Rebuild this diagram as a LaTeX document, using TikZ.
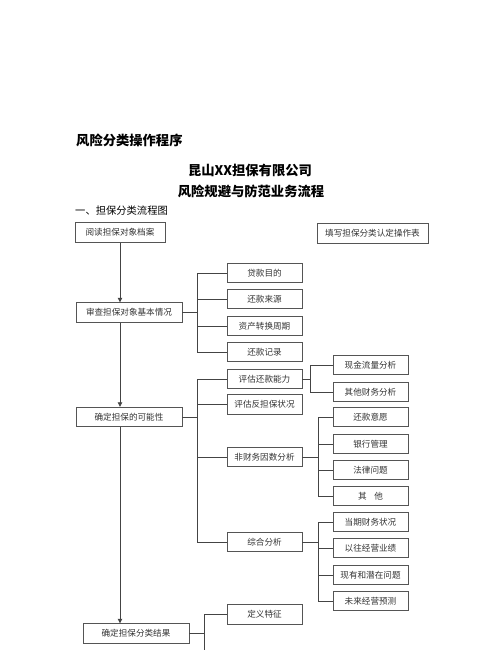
\documentclass[tikz,border=0pt]{standalone}
\usepackage{fontspec}
\newfontfamily\cjk{Noto Sans CJK SC}
\usetikzlibrary{arrows.meta}
\definecolor{ln}{HTML}{444444}
\definecolor{bx}{HTML}{555555}
\definecolor{tx}{HTML}{333333}
\tikzset{
  box/.style={draw=bx, line width=0.9pt, inner sep=0pt, minimum height=19.5pt, text=tx, font=\cjk\fontsize{8.6pt}{9pt}\selectfont},
  wA/.style={minimum width=90pt},
  wB/.style={minimum width=111pt},
  wM/.style={minimum width=106pt},
  wS/.style={minimum width=75pt},
  conn/.style={draw=ln, line width=0.8pt},
  arr/.style={conn, -{Triangle[length=4.5pt,width=4.5pt]}},
  ttl/.style={inner sep=0pt, text=black, font=\cjk\bfseries\fontsize{13.3pt}{14pt}\selectfont},
}
\begin{document}
\begin{tikzpicture}[x=1pt,y=-1pt]
\useasboundingbox (0,0) rectangle (500,657);
% titles
\node[ttl, anchor=west] (t1) at (76,140) {风险分类操作程序};
\node[ttl] (t2) at (250,170) {昆山XX担保有限公司};
\node[ttl] (t3) at (251,191) {风险规避与防范业务流程};
\node[inner sep=0pt, anchor=west, font=\cjk\fontsize{10.3pt}{11pt}\selectfont] (t4) at (75,211) {一、担保分类流程图};
% main column
\node[box,wA] (A) at (120,232.5) {阅读担保对象档案};
\node[box,wB] (B) at (372.5,233.5) {填写担保分类认定操作表};
\node[box,wM] (C) at (129,312.5) {审查担保对象基本情况};
\node[box,wM] (D) at (129,417) {确定担保的可能性};
\node[box,wM] (E) at (136,633.5) {确定担保分类结果};
% level 2
\node[box,wS] (c1) at (264.5,273) {贷款目的};
\node[box,wS] (c2) at (264.5,299) {还款来源};
\node[box,wS] (c3) at (264.5,326) {资产转换周期};
\node[box,wS] (c4) at (264.5,352) {还款记录};
\node[box,wS] (d1) at (264.5,379) {评估还款能力};
\node[box,wS] (d2) at (264.5,404.5) {评估反担保状况};
\node[box,wS] (d3) at (264.5,457) {非财务因数分析};
\node[box,wS] (d4) at (264.5,542) {综合分析};
\node[box,wS] (e1) at (264.5,614.5) {定义特征};
% level 3
\node[box,wS] (p1) at (370.5,365) {现金流量分析};
\node[box,wS] (p2) at (370.5,392) {其他财务分析};
\node[box,wS] (q1) at (370.5,417) {还款意愿};
\node[box,wS] (q2) at (370.5,444) {银行管理};
\node[box,wS] (q3) at (370.5,470) {法律问题};
\node[box,wS] (q4) at (370.5,496) {其\hspace{0.9em}他};
\node[box,wS] (r1) at (370.5,522) {当期财务状况};
\node[box,wS] (r2) at (370.5,548) {以往经营业绩};
\node[box,wS] (r3) at (370.5,575) {现有和潜在问题};
\node[box,wS] (r4) at (370.5,601) {未来经营预测};
% bus coordinates
\coordinate (bc) at (197,0);
\coordinate (bd) at (197,0);
\coordinate (bp) at (310,0);
\coordinate (bq) at (318,0);
\coordinate (be) at (204,0);
\coordinate (eEnd) at (204,650);
% main arrows
\draw[arr] (A.south) -- (A.south |- C.north);
\draw[arr] (A.south |- C.south) -- (A.south |- D.north);
\draw[arr] (A.south |- D.south) -- (A.south |- E.north);
% C branches
\draw[conn] (C.east) -- (bc |- C.east);
\draw[conn] (bc |- c1.west) -- (bc |- c4.west);
\foreach \n in {c1,c2,c3,c4} \draw[conn] (bc |- \n.west) -- (\n.west);
% D branches
\draw[conn] (D.east) -- (bd |- D.east);
\draw[conn] (bd |- d1.west) -- (bd |- d4.west);
\foreach \n in {d1,d2,d3,d4} \draw[conn] (bd |- \n.west) -- (\n.west);
% d1 branches
\draw[conn] (d1.east) -- (bp |- d1.east);
\draw[conn] (bp |- p1.west) -- (bp |- p2.west);
\foreach \n in {p1,p2} \draw[conn] (bp |- \n.west) -- (\n.west);
% d3 branches
\draw[conn] (d3.east) -- (bq |- d3.east);
\draw[conn] (bq |- q1.west) -- (bq |- q4.west);
\foreach \n in {q1,q2,q3,q4} \draw[conn] (bq |- \n.west) -- (\n.west);
% d4 branches
\draw[conn] (d4.east) -- (bq |- d4.east);
\draw[conn] (bq |- r1.west) -- (bq |- r4.west);
\foreach \n in {r1,r2,r3,r4} \draw[conn] (bq |- \n.west) -- (\n.west);
% E branches
\draw[conn] (E.east) -- (be |- E.east);
\draw[conn] (be |- e1.west) -- (eEnd);
\draw[conn] (be |- e1.west) -- (e1.west);
\end{tikzpicture}
\end{document}
